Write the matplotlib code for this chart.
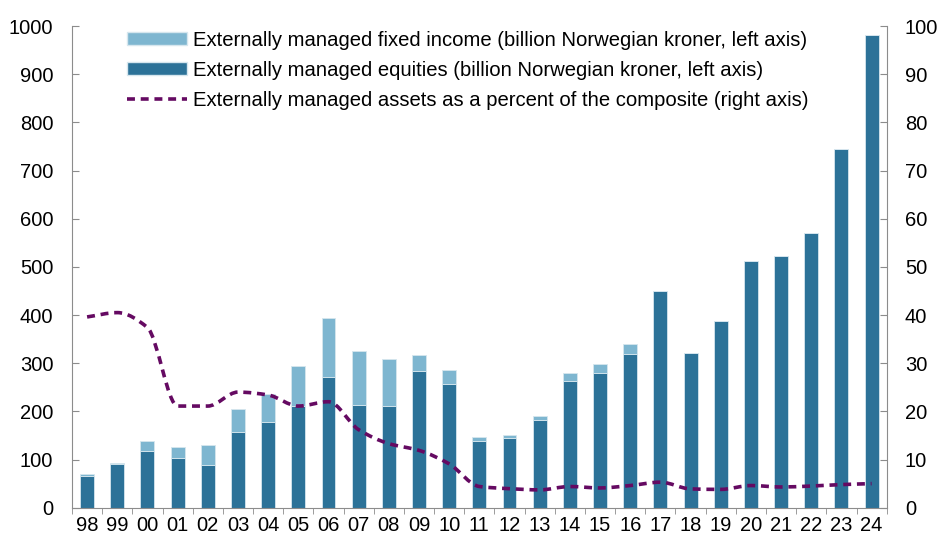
import matplotlib
matplotlib.use("Agg")
import matplotlib.pyplot as plt
import numpy as np
from matplotlib.path import Path
from matplotlib.patches import PathPatch, Patch
from matplotlib.lines import Line2D

plt.rcParams['font.family'] = ['Liberation Sans', 'DejaVu Sans']

years = ["98", "99", "00", "01", "02", "03", "04", "05", "06", "07", "08", "09",
         "10", "11", "12", "13", "14", "15", "16", "17", "18", "19", "20", "21",
         "22", "23", "24"]
equities = [66, 91, 118, 103, 89, 158, 177, 212, 272, 214, 211, 283,
            257, 138, 145, 183, 262, 280, 320, 450, 321, 388, 512, 523,
            571, 744, 982]
total = [69, 92, 138, 127, 130, 204, 237, 295, 393, 326, 308, 317,
         285, 147, 150, 191, 279, 298, 339, 450, 321, 388, 512, 523,
         571, 744, 982]
fixed_income = [t - e for t, e in zip(total, equities)]
pct_composite = [39.6, 40.5, 37.4, 21.1, 21.1, 24.0, 23.4, 21.1, 22.0, 16.2,
                 13.3, 11.9, 9.1, 4.4, 3.95, 3.7, 4.4, 4.1, 4.6, 5.3,
                 3.9, 3.8, 4.6, 4.3, 4.5, 4.8, 5.0]

c_eq = "#2C7298"
c_fi = "#7EB6D0"
c_line = "#650A62"

fig = plt.figure(figsize=(9.40, 5.39), dpi=100)
ax = fig.add_axes([72/940, 1-507.7/539, (886.7-72)/940, (507.7-26)/539])
x = np.arange(len(years))
w = 0.46
ax.bar(x, equities, width=w, color=c_eq, edgecolor="#D6E6EE", linewidth=0.6, zorder=2)
ax.bar(x, fixed_income, width=w, bottom=equities, color=c_fi, edgecolor="#D6E6EE",
       linewidth=0.6, zorder=2)
ax.set_xlim(-0.5, len(years) - 0.5)
ax.set_ylim(0, 1000)
ax.set_yticks(np.arange(0, 1001, 100))
ax.set_xticks(x)
ax.set_xticklabels(years)
ax.set_xticks(np.arange(-0.5, len(years), 1), minor=True)
ax.tick_params(axis='x', which='major', length=0, labelsize=14.5, pad=6)
ax.tick_params(axis='x', which='minor', length=4.5, direction='out', color="#8C8C8C")
ax.tick_params(axis='y', direction='in', length=5, labelsize=14.5, color="#8C8C8C", pad=13.5)
for s in ['top', 'right']:
    ax.spines[s].set_visible(False)
for s in ['left', 'bottom']:
    ax.spines[s].set_color("#8C8C8C")

ax2 = ax.twinx()
ax2.set_ylim(0, 100)
ax2.set_yticks(np.arange(0, 101, 10))
ax2.tick_params(axis='y', direction='in', length=5, labelsize=14.5, color="#8C8C8C", pad=13)
for s in ['top', 'left', 'bottom']:
    ax2.spines[s].set_visible(False)
ax2.spines['right'].set_color("#8C8C8C")

# smoothed line: cubic Bezier through the data points with monotone tangents
px = x.astype(float)
py = np.array(pct_composite, dtype=float)
n = len(px)
d = np.diff(py)
m = np.zeros(n)
m[0], m[-1] = d[0], d[-1]
for i in range(1, n - 1):
    if d[i - 1] * d[i] > 0:
        m[i] = 2.0 / (1.0 / d[i - 1] + 1.0 / d[i])
    else:
        m[i] = 0.0
verts = [(px[0], py[0])]
codes = [Path.MOVETO]
for i in range(n - 1):
    c1 = (px[i] + 1/3, py[i] + m[i] / 3)
    c2 = (px[i + 1] - 1/3, py[i + 1] - m[i + 1] / 3)
    verts += [c1, c2, (px[i + 1], py[i + 1])]
    codes += [Path.CURVE4] * 3
patch = PathPatch(Path(verts, codes), facecolor='none', edgecolor=c_line,
                  linewidth=2.6, linestyle=(0, (2.2, 1.6)), zorder=3)
ax2.add_patch(patch)

handles = [Patch(facecolor=c_fi, edgecolor="#D6E6EE"),
           Patch(facecolor=c_eq, edgecolor="#D6E6EE"),
           Line2D([], [], color=c_line, linewidth=2.6, linestyle=(0, (2.2, 1.6)))]
labels = ["Externally managed fixed income (billion Norwegian kroner, left axis)",
          "Externally managed equities (billion Norwegian kroner, left axis)",
          "Externally managed assets as a percent of the composite (right axis)"]
leg = ax2.legend(handles, labels, loc='upper left', bbox_to_anchor=(0.058, 1.007),
                 frameon=False, fontsize=14.6, handlelength=2.95, handleheight=0.6,
                 handletextpad=0.3, labelspacing=0.55, borderaxespad=0)

fig.savefig("out.png", dpi=100)
